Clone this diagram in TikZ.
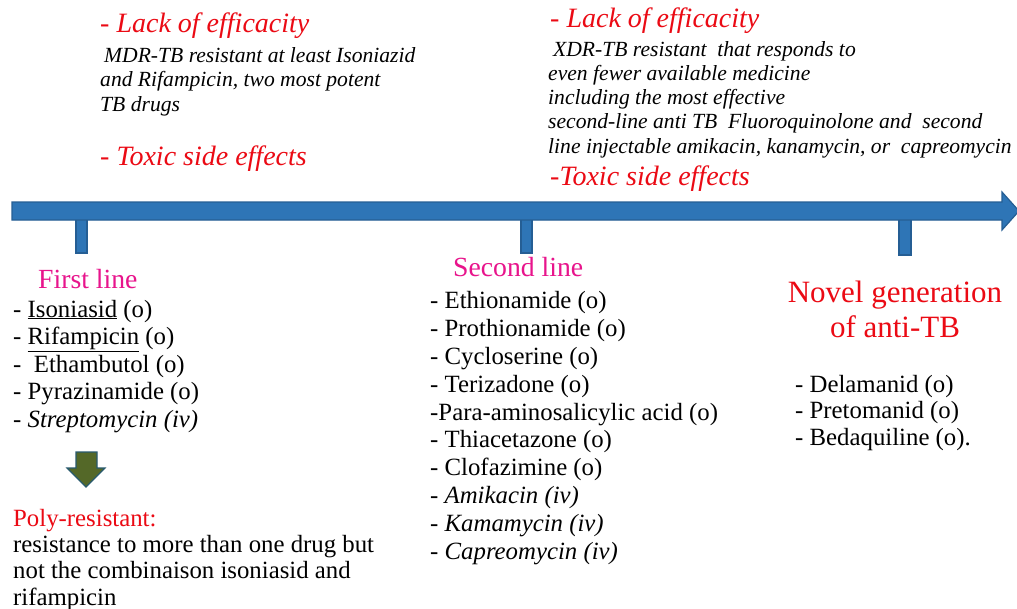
\documentclass[tikz,border=0pt]{standalone}
\usepackage{fontspec}
\setmainfont{LiberationSerif}[Extension=.ttf,UprightFont=*-Regular,ItalicFont=*-Italic,
  BoldFont=*-Bold,BoldItalicFont=*-BoldItalic]
\usepackage{tikz}
\usetikzlibrary{arrows.meta}
\usepackage{xcolor}
\definecolor{axisblue}{RGB}{46,117,182}
\definecolor{axisedge}{RGB}{37,94,148}
\definecolor{alertred}{RGB}{235,10,20}
\definecolor{headpink}{RGB}{232,20,140}
\definecolor{downolive}{RGB}{84,104,40}
\definecolor{downedge}{RGB}{40,90,110}
\tikzset{
  redtitle/.style={anchor=base west,inner sep=0pt,text=alertred,font=\fontsize{28}{30}\selectfont\itshape},
  note/.style={anchor=base west,inner sep=0pt,align=left,font=\fontsize{21.6}{24.1}\selectfont\itshape},
  linehead/.style={anchor=base west,inner sep=0pt,text=headpink,font=\fontsize{27.7}{30}\selectfont},
  druglist/.style={anchor=base west,inner sep=0pt,align=left,font=\fontsize{24.8}{27.8}\selectfont}
}

\begin{document}
\begin{tikzpicture}[x=1pt,y=-1pt,line join=miter]
\useasboundingbox (0,0) rectangle (1017,608);
\fill[white] (0,0) rectangle (1017,608);
\fill[axisblue,draw=axisedge,line width=1.2pt] (76,215) rectangle (87,253);
\fill[axisblue,draw=axisedge,line width=1.2pt] (521,215) rectangle (532,253);
\fill[axisblue,draw=axisedge,line width=1.2pt] (899,215) rectangle (911,255);
\fill[axisblue,draw=axisedge,line width=1.2pt] (12,202) -- (1002,202) -- (1002,192) -- (1019,211)
  -- (1002,230) -- (1002,220) -- (12,220) -- cycle;
\fill[downolive,draw=downedge,line width=1.2pt] (76,452) -- (97,452) -- (97,468) -- (105,468)
  -- (86,487) -- (67,468) -- (76,468) -- cycle;

\node[redtitle] (lackL) at (100,32) {- Lack of efficacity};
\node[note] (mdrNote) at (100,111) {\hspace*{4pt}MDR-TB resistant at least Isoniazid\\
  and Rifampicin, two most potent\\TB drugs};
\node[redtitle] (toxicL) at (100,165) {- Toxic side effects};

\node[redtitle] (lackR) at (550,27) {- Lack of efficacity};
\node[note] (xdrNote) at (548,153) {\hspace*{5pt}XDR-TB resistant\ \ that responds to\\
  even fewer available medicine\\including the most effective\\
  second-line anti TB\ \ Fluoroquinolone and\ \ second\\
  line injectable amikacin, kanamycin, or\ \ capreomycin};
\node[redtitle] (toxicR) at (550,185) {-Toxic side effects};

\node[linehead] (firstHead) at (38,288) {First line};
\node[druglist,font=\fontsize{24.8}{27.5}\selectfont] (firstList) at (13,427) {- \underline{Isoniasid} (o)\\
  - \underline{Rifampicin} (o)\\-\ \ Ethambutol (o)\\- Pyrazinamide (o)\\- \textit{Streptomycin (iv)}};
\node[druglist,text=alertred] (polyHead) at (13,526) {Poly-resistant:};
\node[druglist,font=\fontsize{24.8}{26.5}\selectfont] (polyNote) at (13,605) {resistance to more than one drug but\\
  not the combinaison isoniasid and\\rifampicin};

\node[linehead] (secondHead) at (453,276) {Second line};
\node[druglist] (secondList) at (430,559) {- Ethionamide (o)\\- Prothionamide (o)\\- Cycloserine (o)\\
  - Terizadone (o)\\-Para-aminosalicylic acid (o)\\- Thiacetazone (o)\\- Clofazimine (o)\\
  - \textit{Amikacin (iv)}\\- \textit{Kamamycin (iv)}\\- \textit{Capreomycin (iv)}};

\node[anchor=base,inner sep=0pt,align=center,text=alertred,font=\fontsize{31}{35}\selectfont]
  (novelHead) at (895,337) {Novel generation\\of anti-TB};
\node[druglist,font=\fontsize{24.8}{26.5}\selectfont] (novelList) at (795,445) {- Delamanid (o)\\
  - Pretomanid (o)\\- Bedaquiline (o).};
\end{tikzpicture}
\end{document}
